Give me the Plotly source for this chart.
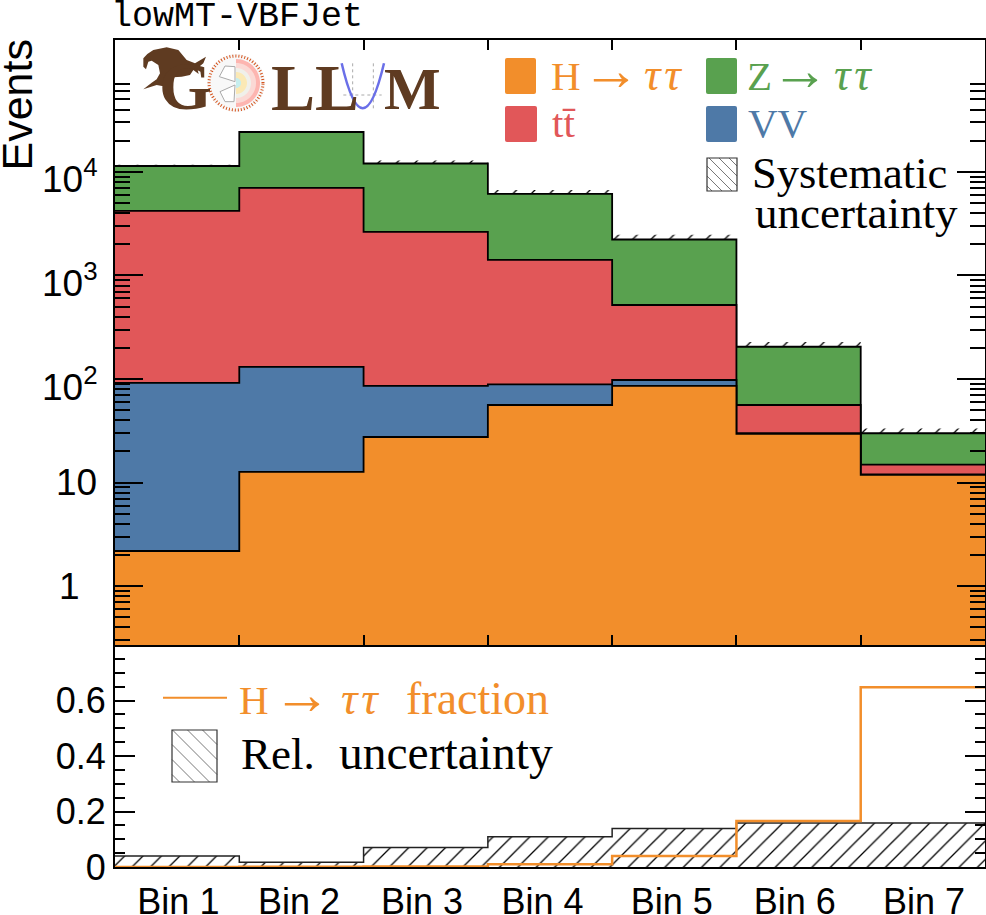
import numpy as np
import plotly.graph_objects as go
from plotly.subplots import make_subplots

# values
bins = ["Bin 1", "Bin 2", "Bin 3", "Bin 4", "Bin 5", "Bin 6", "Bin 7"]
bin_edges = [0, 1, 2, 3, 4, 5, 6, 7]
label_pos = [0.51, 1.48, 2.47, 3.44, 4.48, 5.47, 6.51]

higgs = [2.19, 12.7, 27.6, 56.2, 85.8, 29.6, 11.9]
diboson = [89.5, 118.3, 58.2, 32.5, 12.2, 0.4, 0.1]
ttbar = [4103, 6862, 2544, 1323, 421, 26.2, 2.9]
ztautau = [7205, 17277, 9420, 4708, 1706, 149, 15.1]
syst_band = [0.03, 0.01, 0.07, 0.09, 0.11, 0.11, 0.11]

higgs_fraction = [0.0002, 0.0005, 0.002, 0.01, 0.04, 0.166, 0.648]
rel_uncertainty = [0.04, 0.017, 0.07, 0.109, 0.139, 0.159, 0.159]

major_y = [1, 10, 100, 1000, 10000]
major_y_text = ["1", "10", "10<sup>2</sup>", "10<sup>3</sup>", "10<sup>4</sup>"]
major_y_right = [82, 99, 100, 100, 100]
major_y_shift = [0, 0, -5, -5, -5]
minor_y = [0.3, 0.4, 0.5, 0.6, 0.7, 0.8, 0.9,
           2, 3, 4, 5, 6, 7, 8, 9,
           20, 30, 40, 50, 60, 70, 80, 90,
           200, 300, 400, 500, 600, 700, 800, 900,
           2000, 3000, 4000, 5000, 6000, 7000, 8000, 9000,
           20000, 30000, 40000, 50000, 60000, 70000]
major_r = [0, 0.2, 0.4, 0.6]
minor_r = [0.05, 0.1, 0.15, 0.25, 0.3, 0.35, 0.45, 0.5, 0.55, 0.65, 0.7, 0.75]

ORANGE = "#f28e2b"
RED = "#e15759"
GREEN = "#59a14f"
BLUE = "#4e79a7"
BROWN = "#5f3b21"
SANS = "Liberation Sans"
SERIF = "Liberation Serif"

# plot area in page pixels
L, R, T, B, SPLIT = 115, 985, 40, 867, 645


def fx(x):
    return (x - L) / (R - L)


def fy(y):
    return (B - y) / (B - T)


def closed(v):
    # a step line needs the last bin repeated at the right edge
    return list(v) + [v[-1]]


def crop_path(points, close=True):
    # logo outlines were traced on a crop of the page
    pts = [(fx(110 + a / 3), fy(30 + b / 3)) for a, b in points]
    d = "M " + " L ".join(f"{a:.5f},{b:.5f}" for a, b in pts)
    return d + (" Z" if close else "")


def disc(cx, cy, r, start=0, stop=360):
    t = np.radians(np.linspace(start, stop, 60))
    pts = [(fx(cx + r * np.cos(a)), fy(cy - r * np.sin(a))) for a in t]
    return "M " + " L ".join(f"{a:.5f},{b:.5f}" for a, b in pts) + " Z"


def box_path(x0, y0, x1, y1, r=2):
    a, b, c, d = fx(x0), fy(y0), fx(x1), fy(y1)
    rx, ry = r / (R - L), r / (B - T)
    return (f"M {a + rx},{b} L {c - rx},{b} Q {c},{b} {c},{b - ry} L {c},{d + ry} "
            f"Q {c},{d} {c - rx},{d} L {a + rx},{d} Q {a},{d} {a},{d + ry} L {a},{b - ry} Q {a},{b} {a + rx},{b} Z")


def hatch_path(x0, y0, x1, y1, step):
    w, h = x1 - x0, y1 - y0
    d = ""
    for off in np.arange(-h + step / 2, w, step):
        sx, sy = max(off, 0), max(-off, 0)
        n = min(w - sx, h - sy)
        d += f"M {fx(x0 + sx):.5f},{fy(y0 + sy):.5f} L {fx(x0 + sx + n):.5f},{fy(y0 + sy + n):.5f} "
    return d


fig = make_subplots(rows=2, cols=1, shared_xaxes=False, vertical_spacing=0,
                    row_heights=[(SPLIT - T) / (B - T), (B - SPLIT) / (B - T)])

top_h = np.array(higgs)
top_v = top_h + np.array(diboson)
top_t = top_v + np.array(ttbar)
top_z = top_t + np.array(ztautau)

hatch = dict(shape="/", fgcolor="black", fgopacity=1, bgcolor="rgba(0,0,0,0)", size=13, solidity=0.1)

# systematic band above the stack
fig.add_trace(go.Scatter(x=bin_edges, y=closed(top_z), mode="lines", line=dict(width=0, shape="hv"),
                         hoverinfo="skip"), row=1, col=1)
fig.add_trace(go.Scatter(x=bin_edges, y=closed(top_z * (1 + np.array(syst_band))), mode="lines",
                         line=dict(width=0, shape="hv"), fill="tonexty", fillcolor="rgba(0,0,0,0)",
                         fillpattern=hatch, hoverinfo="skip"), row=1, col=1)

# stack, tallest first so each fill sits over the one before
for y, col in [(top_z, GREEN), (top_t, RED), (top_v, BLUE), (top_h, ORANGE)]:
    fig.add_trace(go.Scatter(x=bin_edges, y=closed(y), mode="lines", fill="tozeroy", fillcolor=col,
                             line=dict(color="black", width=1.8, shape="hv")), row=1, col=1)

# ratio panel
fig.add_trace(go.Scatter(x=bin_edges, y=closed(rel_uncertainty), mode="lines", fill="tozeroy",
                         fillcolor="rgba(0,0,0,0)", fillpattern=hatch,
                         line=dict(color="#222222", width=1.5, shape="hv")), row=2, col=1)
fig.add_trace(go.Scatter(x=bin_edges, y=closed(higgs_fraction), mode="lines",
                         line=dict(color=ORANGE, width=2.5, shape="hv")), row=2, col=1)

# empty traces so the right-hand tick axes get drawn
fig.add_trace(go.Scatter(x=[None], y=[None], xaxis="x", yaxis="y3", hoverinfo="skip"))
fig.add_trace(go.Scatter(x=[None], y=[None], xaxis="x2", yaxis="y4", hoverinfo="skip"))

axis_line = dict(showline=True, linecolor="black", linewidth=2, showgrid=False, zeroline=False)
tick = dict(ticks="inside", tickwidth=1.5, tickcolor="black")
log_range = [-0.567, 5.273]
log_major = dict(tickmode="array", tickvals=major_y, ticklen=28, **tick)
log_minor = dict(tickmode="array", tickvals=minor_y, ticklen=15, **tick)
lin_major = dict(tickmode="array", tickvals=major_r, ticklen=20, **tick)
lin_minor = dict(tickmode="array", tickvals=minor_r, ticklen=10, **tick)

fig.update_xaxes(range=[0, 7], tickmode="array", tickvals=bin_edges[1:-1], showticklabels=False,
                 ticklen=10, mirror="ticks", row=1, col=1, **tick, **axis_line)
fig.update_xaxes(range=[0, 7], tickmode="array", tickvals=label_pos, ticktext=bins, ticks="", ticklabelstandoff=2,
                 tickfont=dict(family=SANS, size=36, color="black"), row=2, col=1, **axis_line)
fig.update_yaxes(type="log", range=log_range, showticklabels=False, minor=log_minor,
                 row=1, col=1, **log_major, **axis_line)
fig.update_yaxes(range=[0, 0.8], ticktext=["0", "0.2", "0.4", "0.6"], minor=lin_minor,
                 tickfont=dict(family=SANS, size=36, color="black"), row=2, col=1, **lin_major, **axis_line)

notes = []


def note(text, x, base, size, color="black", family=SERIF, anchor="left", **kw):
    # base is the text baseline in page pixels
    notes.append(dict(text=text, x=fx(x), y=fy(base + 0.26 * size), xref="paper", yref="paper",
                      xanchor=anchor, yanchor="bottom", showarrow=False, borderpad=0,
                      font=dict(family=family, size=size, color=color), **kw))


def decay(name, x, arrow_x, tau_x, base, color):
    note(name, x, base, 41, color=color)
    note("→", arrow_x, base, 58, color=color)
    note("<i>τ\u200aτ</i>", tau_x, base, 46, color=color)


note("lowMT-VBFJet", 110, 29, 35, family="Liberation Mono")
notes.append(dict(text="Events", x=fx(16), y=fy(38), xref="paper", yref="paper", xanchor="center", yanchor="top",
                  textangle=-90, showarrow=False, font=dict(family=SANS, size=43, color="black")))

# decade labels sit a little under their ticks once they carry an exponent
for val, txt, right, shift in zip(major_y, major_y_text, major_y_right, major_y_shift):
    notes.append(dict(text=txt, x=fx(right), y=np.log10(val), xref="paper", yref="y", xanchor="right", yanchor="middle",
                      yshift=shift, showarrow=False, font=dict(family=SANS, size=37, color="black")))

# logo lettering
note("<b>G</b>", 158, 107.5, 68, color=BROWN)
note("<b>LL</b>", 270, 107.5, 66, color=BROWN)
note("<b>M</b>", 383, 107.5, 60, color=BROWN)

# legend
decay("H", 550, 581, 643, 89, ORANGE)
decay("Z", 746, 770, 833, 89, GREEN)
note("tt\u0304", 551, 136, 41, color=RED)
note("VV", 747, 136, 41, color=BLUE)
note("Systematic", 751, 187, 44.5)
note("uncertainty", 754, 227, 45)
decay("H", 238, 272, 340, 713, ORANGE)
note("fraction", 405, 713, 46, color=ORANGE)
note("Rel.", 240, 768, 45)
note("uncertainty", 338, 768, 47.5)

shapes = []


def add_path(path, fill="rgba(0,0,0,0)", line="rgba(0,0,0,0)", width=0, dash=None):
    shapes.append(dict(type="path", path=path, xref="paper", yref="paper", fillcolor=fill,
                       line=dict(color=line, width=width, dash=dash)))


for x0, y0, x1, y1, col in [(505, 58, 536, 94, ORANGE), (505, 106, 537, 142, RED),
                            (706, 58, 737, 94, GREEN), (706, 106, 737, 142, BLUE)]:
    add_path(box_path(x0, y0, x1, y1), fill=col)

for x0, y0, x1, y1, step in [(707, 158, 737, 191, 10), (172, 730, 217, 782, 15)]:
    add_path(hatch_path(x0, y0, x1, y1, step), line="#555555", width=0.8)
    shapes.append(dict(type="rect", xref="paper", yref="paper", x0=fx(x0), x1=fx(x1), y0=fy(y0), y1=fy(y1),
                       line=dict(color="#333333", width=1.2)))

shapes.append(dict(type="line", xref="paper", yref="paper", x0=fx(163), x1=fx(227), y0=fy(697.7), y1=fy(697.7),
                   line=dict(color=ORANGE, width=2)))

# logo: hat
add_path(crop_path([(100, 85), (112, 72), (130, 60), (170, 52), (205, 60), (230, 90), (255, 100), (288, 80),
                    (280, 100), (262, 115), (266, 132), (250, 120), (240, 135), (215, 140), (190, 142),
                    (172, 148), (168, 170), (140, 165), (100, 178), (125, 158), (140, 148), (150, 130),
                    (145, 105), (125, 92), (115, 95), (108, 118), (100, 110)]), fill=BROWN)
# logo: the O as a small wheel
add_path(disc(236, 83, 29), fill="#f8f8f8")
add_path(disc(236, 83, 27), line="#d4531c", width=3, dash="1px,2px")
for r, col in [(24, "#fdb5b0"), (20, "#fbd9d5"), (15, "#f0f0ea"), (11, "#fbe9b5"), (5, "#c6eeee")]:
    add_path(disc(236, 83, r, -90, 90), fill=col)
add_path(crop_path([(375, 110), (345, 108), (328, 140), (375, 155)]), line="#aaaaaa", width=1, fill="white")
add_path(crop_path([(375, 165), (330, 185), (345, 215), (372, 215)]), line="#aaaaaa", width=1, fill="white")
# logo: the U as a parabola on a small grid
add_path(crop_path([(728, 100), (728, 235)], close=False), line="#aaaaaa", width=1, dash="dot")
add_path(crop_path([(790, 100), (790, 235)], close=False), line="#aaaaaa", width=1, dash="dot")
add_path(crop_path([(700, 195), (815, 195)], close=False), line="#aaaaaa", width=1, dash="dot")
px0, py0 = fx(110 + 695 / 3), fy(30 + 100 / 3)
pxc, pyc = fx(110 + 758 / 3), fy(30 + 370 / 3)
px1, py1 = fx(110 + 822 / 3), fy(30 + 100 / 3)
add_path(f"M {px0},{py0} Q {pxc},{pyc} {px1},{py1}", line="#6a6fe8", width=2.5)

fig.update_layout(width=986, height=915, showlegend=False, plot_bgcolor="white", paper_bgcolor="white",
                  margin=dict(l=L, r=986 - R, t=T, b=915 - B, autoexpand=False),
                  annotations=notes, shapes=shapes,
                  yaxis3=dict(type="log", range=log_range, overlaying="y", anchor="x", side="right", showticklabels=False,
                              minor=log_minor, **log_major, **axis_line),
                  yaxis4=dict(range=[0, 0.8], overlaying="y2", anchor="x2", side="right", showticklabels=False,
                              minor=lin_minor, **lin_major, **axis_line))

# the page's default body margin would push the figure off the window
fig.write_html("out.html", config={"displayModeBar": False},
               post_script="document.body.style.margin='0';document.body.style.overflow='hidden';")
